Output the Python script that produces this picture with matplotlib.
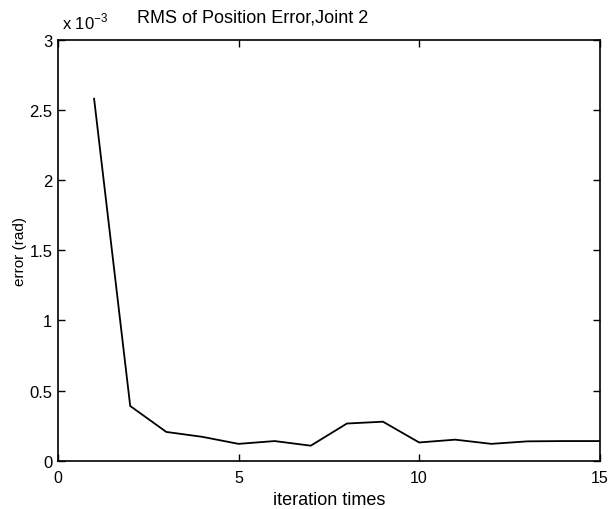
import matplotlib
matplotlib.use("Agg")
import matplotlib.pyplot as plt

iterations = [1, 2, 3, 4, 5, 6, 7, 8, 9, 10, 11, 12, 13, 14, 15]
rms_error = [2.58e-3, 0.39e-3, 0.205e-3, 0.17e-3, 0.12e-3, 0.14e-3, 0.107e-3,
             0.265e-3, 0.278e-3, 0.13e-3, 0.15e-3, 0.12e-3, 0.138e-3, 0.14e-3, 0.14e-3]
x_ticks = [0, 5, 10, 15]
y_ticks = [0, 0.5e-3, 1e-3, 1.5e-3, 2e-3, 2.5e-3, 3e-3]
y_tick_labels = ["0", "0.5", "1", "1.5", "2", "2.5", "3"]

plt.rcParams['font.family'] = ['Liberation Sans', 'DejaVu Sans']

fig = plt.figure(figsize=(6.09, 5.10), dpi=100)
ax = fig.add_axes([0.0952, 0.0947, 0.8895, 0.8253])
ax.plot(iterations, rms_error, color='black', lw=1.3)
ax.set_xlim(0, 15)
ax.set_ylim(0, 3e-3)
ax.set_xticks(x_ticks)
ax.set_xticklabels([str(t) for t in x_ticks])
ax.set_yticks(y_ticks)
ax.set_yticklabels(y_tick_labels)
ax.tick_params(direction='in', length=5, width=1, top=True, right=True,
               labelsize=12, colors='black')
ax.tick_params(axis='x', pad=7, labelsize=11.5)
ax.tick_params(axis='y', pad=4)
for s in ax.spines.values():
    s.set_linewidth(1.2)
ax.set_xlabel("iteration times", fontsize=13, labelpad=4)
ax.set_ylabel("error (rad)", fontsize=11, labelpad=2)
fig.text(0.101, 0.957, r"x 10$^{\mathregular{-3}}$", fontsize=12, ha='left', va='center')
fig.text(0.414, 0.965, "RMS of Position Error,Joint 2", fontsize=13, ha='center', va='center')

fig.savefig("out.png", dpi=100)
